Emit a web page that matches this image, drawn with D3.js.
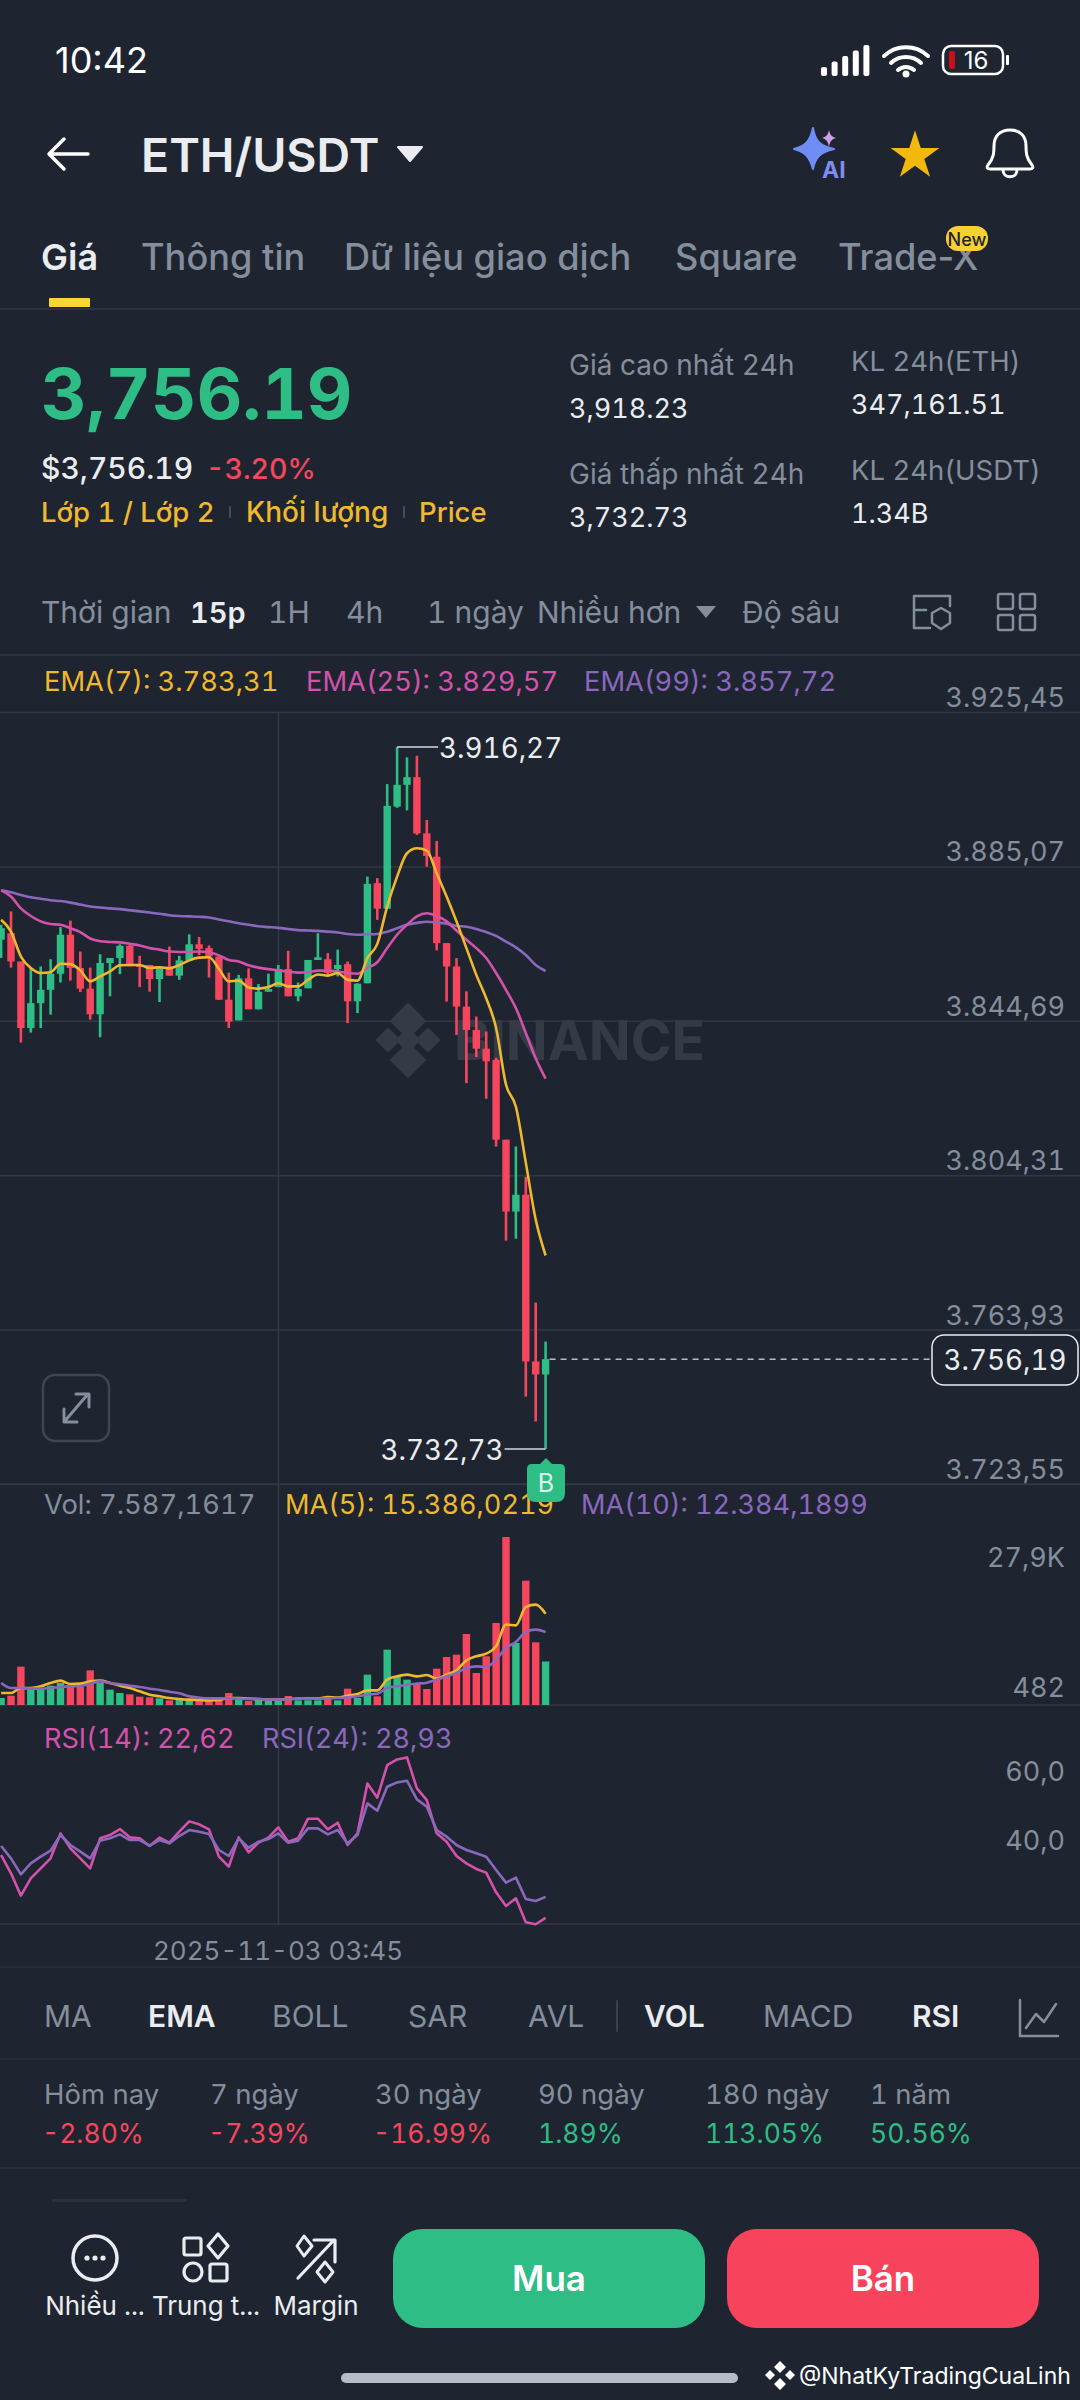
<!DOCTYPE html>
<html>
<head>
<meta charset="utf-8">
<style>
  *{margin:0;padding:0;box-sizing:border-box}
  body{background:#1e2530;width:1080px;height:2400px;overflow:hidden}
  svg{display:block}
  text{font-family:Inter,Roboto,sans-serif;font-variant-numeric:tabular-nums}
</style>
</head>
<body>
<svg id="g" width="1080" height="2400"></svg>
<script src="https://cdn.jsdelivr.net/npm/d3@7/dist/d3.min.js"></script>
<script>
const BG='#1e2530', GRID='#323843', GREEN='#2ebd85', RED='#f6465d', YEL='#eeb92e', PINK='#d452ab', PURP='#8a68bd', GRAY='#848e9c', WHITE='#eaecef';

// candles, 15 minute ETH/USDT
const open=[3865.9,3867.6,3860.2,3842.8,3849.3,3852.8,3857.0,3867.2,3858.5,3853.1,3846.4,3859.8,3861.1,3864.3,3859.3,3859.3,3855.6,3858.9,3856.5,3860.5,3864.7,3863.7,3861.5,3850.2,3844.8,3855.8,3847.7,3852.3,3853.5,3858.2,3851.1,3853.2,3860.6,3860.8,3858.2,3859.5,3849.8,3854.5,3880.7,3874.0,3900.7,3906.4,3908.4,3893.7,3887.6,3865.0,3858.9,3848.4,3842.3,3837.4,3834.5,3813.6,3794.8,3799.2,3755.6,3752.2];
const high=[3869.8,3873.3,3860.2,3858.5,3858.9,3860.8,3869.2,3870.9,3862.8,3858.6,3862.1,3861.1,3864.7,3864.5,3861.7,3859.3,3858.9,3864.1,3861.7,3867.3,3866.6,3864.4,3861.5,3857.3,3856.7,3858.4,3854.3,3857.0,3859.3,3863.0,3854.7,3860.6,3867.6,3862.4,3863.3,3860.2,3854.5,3882.4,3882.0,3906.6,3916.27,3913.6,3914.0,3897.2,3891.7,3865.0,3861.1,3852.4,3845.8,3841.9,3835.0,3813.6,3811.8,3803.9,3771.0,3760.8];
const low=[3861.1,3858.6,3839.0,3841.6,3842.8,3846.3,3854.7,3855.2,3852.2,3845.0,3840.4,3851.1,3856.9,3858.9,3853.5,3852.3,3849.6,3856.5,3855.4,3860.5,3861.9,3856.0,3850.2,3842.8,3844.8,3847.7,3847.7,3852.3,3853.5,3851.1,3849.8,3853.2,3860.6,3856.7,3856.3,3844.1,3846.7,3854.5,3871.1,3874.0,3900.4,3899.7,3893.3,3885.0,3863.1,3849.7,3841.0,3828.4,3835.2,3824.3,3811.8,3787.2,3787.7,3746.4,3739.9,3732.73];
const close=[3868.9,3860.2,3842.8,3849.3,3852.8,3857.0,3867.2,3858.5,3853.1,3846.4,3859.8,3861.1,3864.3,3859.3,3858.9,3855.6,3858.9,3856.5,3860.5,3864.7,3863.5,3861.5,3850.2,3844.5,3855.8,3847.7,3852.3,3853.0,3858.2,3851.1,3853.0,3860.6,3861.3,3857.2,3859.3,3849.8,3854.4,3880.5,3874.0,3900.9,3906.4,3908.4,3893.7,3887.8,3865.0,3858.9,3848.4,3842.3,3837.4,3834.1,3813.6,3794.8,3799.2,3755.6,3752.2,3756.19];

const ema7=[3871.1,3868.0,3861.5,3858.5,3857.2,3857.4,3859.6,3859.5,3857.9,3855.0,3856.3,3857.6,3859.2,3859.3,3859.3,3858.5,3858.7,3858.4,3859.3,3860.5,3861.2,3861.3,3858.3,3855.0,3855.2,3853.4,3853.1,3853.5,3854.5,3853.7,3853.7,3855.4,3856.8,3856.5,3857.2,3855.4,3855.2,3861.1,3864.8,3874.6,3882.4,3888.5,3889.8,3889.2,3883.3,3877.2,3870.7,3863.7,3856.7,3850.6,3842.8,3828.0,3822.2,3807.6,3792.7,3783.31];
const ema25=[3878.8,3877.2,3874.1,3872.1,3870.7,3870.0,3869.8,3868.9,3867.9,3866.2,3865.5,3865.3,3865.2,3864.8,3864.4,3863.7,3863.3,3862.8,3862.7,3862.7,3862.8,3862.6,3861.8,3860.6,3860.2,3859.2,3858.6,3858.2,3857.9,3857.5,3857.3,3857.4,3857.8,3857.8,3857.6,3857.2,3857.0,3858.5,3860.0,3863.7,3867.2,3869.8,3872.0,3872.8,3872.1,3870.7,3868.3,3865.9,3863.7,3861.1,3857.2,3852.8,3848.0,3841.5,3834.9,3829.57];
const ema99=[3878.8,3878.3,3877.6,3877.0,3876.6,3876.2,3876.0,3875.6,3875.1,3874.6,3874.3,3874.1,3873.9,3873.6,3873.3,3873.0,3872.7,3872.3,3872.1,3872.0,3871.9,3871.7,3871.2,3870.7,3870.2,3869.8,3869.4,3869.2,3869.0,3868.7,3868.4,3868.3,3868.2,3868.0,3867.8,3867.4,3867.2,3867.3,3867.4,3868.0,3868.9,3869.8,3870.3,3870.6,3870.4,3870.1,3869.5,3869.3,3868.7,3867.9,3866.9,3865.4,3863.9,3861.9,3859.3,3857.72];

const volume=[1624,2005,6738,3093,3093,3637,4072,3420,3420,6140,4072,2984,2440,2223,1842,1733,1570,1244,1298,1352,1189,1135,1352,2440,1352,1135,1352,1189,1244,1951,1244,1244,1244,1624,1244,3148,1624,5432,1896,9512,5160,4616,3800,3093,6412,8316,8696,12069,5704,8424,13864,27900,10600,20773,10709,7587];
const volMa5=[2440,2440,3256,3256,3528,4072,4453,3909,3964,4344,4453,4072,3637,3256,2712,2168,1896,1624,1461,1352,1298,1244,1298,1624,1624,1516,1461,1352,1352,1461,1516,1570,1570,1788,1679,2005,2277,2876,2876,4616,5160,5432,5160,5378,4780,5432,6140,7772,8424,8860,10056,13592,13484,16476,16856,15386];
const volMa10=[4072,3256,3256,3148,3148,3256,3420,3528,3583,3964,4344,4072,3855,3637,3420,3148,2930,2658,2386,1896,1679,1570,1570,1570,1516,1461,1461,1352,1352,1407,1516,1516,1516,1570,1624,1733,1896,2168,2332,3256,3528,3800,3964,4127,4616,5160,5704,6520,6792,6684,7880,9784,10764,12396,12776,12384];

const rsi14=[41.5,36.0,29.3,34.5,37.5,40.5,48.0,43.5,40.5,37.5,46.5,47.5,49.3,46.8,46.5,44.2,46.7,45.2,48.5,51.6,50.7,49.2,41.0,38.0,46.8,42.3,45.2,46.7,49.8,45.5,46.5,52.4,52.4,49.2,51.2,44.5,48.0,63.0,58.7,68.5,70.2,70.8,61.5,58.0,48.0,45.5,41.2,39.0,37.3,36.2,30.3,26.2,28.5,21.3,20.7,22.62];
const rsi24=[44.2,40.5,35.7,39.0,41.0,42.8,47.5,44.5,42.5,40.5,45.8,46.5,47.7,46.0,46.0,44.3,46.0,45.0,47.2,49.0,48.5,47.8,43.0,41.2,46.5,43.7,45.5,46.3,48.0,45.2,45.8,49.5,49.5,47.7,49.0,45.0,47.5,57.0,54.8,62.0,63.3,63.8,58.2,56.0,49.0,47.0,44.5,43.0,42.0,41.0,37.0,33.2,34.7,28.3,27.7,28.93];

const priceTicks=[3925.45,3885.07,3844.69,3804.31,3763.93,3723.55];
const volTicks=[27900,482];
const rsiTicks=[60,40];
const perfLabels=['Hôm nay','7 ngày','30 ngày','90 ngày','180 ngày','1 năm'];
const perfValues=[-2.80,-7.39,-16.99,1.89,113.05,50.56];

const svg=d3.select('#g');
const viVN=d3.formatLocale({decimal:',',thousands:'.',grouping:[3],currency:['','']});
const fmt2=viVN.format(',.2f');

const x=d3.scaleLinear().domain([0,55]).range([1.1,545.6]);
const yP=d3.scaleLinear().domain([3723.55,3925.45]).range([1484,712]);
const yV=d3.scaleLinear().domain([482,27900]).range([1705,1537]);
const yR=d3.scaleLinear().domain([40,60]).range([1860,1793.4]);
const idx=d3.range(open.length);

function txt(s,px,py,size,fill,o={}){
  const t=svg.append('text').attr('x',px).attr('y',py).attr('dominant-baseline','central')
    .attr('font-size',size).attr('fill',fill).attr('font-weight',o.w||400)
    .attr('text-anchor',o.a||'start').text(s);
  if(o.prop) t.style('font-variant-numeric','normal');
  return t;
}
function hline(y,x1=0,x2=1080,c=GRID){svg.append('line').attr('x1',x1).attr('x2',x2).attr('y1',y).attr('y2',y).attr('stroke',c).attr('stroke-width',1.5);}
function icon(d,o={}){
  return svg.append('path').attr('d',d).attr('fill',o.fill||'none').attr('stroke',o.stroke||'none').attr('stroke-width',o.sw||3).attr('stroke-linejoin','round').attr('stroke-linecap','round');
}
function box(x0,y0,w,h,r,o={}){
  return svg.append('rect').attr('x',x0).attr('y',y0).attr('width',w).attr('height',h).attr('rx',r)
    .attr('fill',o.fill||'none').attr('stroke',o.stroke||'none').attr('stroke-width',o.sw||3);
}

// status bar
txt('10:42',55,60,36,'#fff',{prop:1});
[0,1,2,3,4].forEach(i=>box(821+i*10.6,67-i*5.5,6,9+i*5.5,2,{fill:'#fff'}));
icon('M884 56 A32 32 0 0 1 928 56 M891 63 A22 22 0 0 1 921 63 M898 70 A12 12 0 0 1 914 70',{stroke:'#fff',sw:4});
svg.append('circle').attr('cx',906).attr('cy',74).attr('r',3.5).attr('fill','#fff');
box(943,46,60,28,8,{stroke:'#fff',sw:2.5});
box(949,51,6,18,2,{fill:'#c8101c'});
box(1006,55,3,10,1,{fill:'#fff'});
txt('16',976,60,24,'#fff',{a:'middle',prop:1});

// header
icon('M88 154 H50 M64 139 L49 154 L64 169',{stroke:'#fff',sw:3.5});
txt('ETH/USDT',141,155,46.5,WHITE,{w:600});
icon('M398 147 H422 L410 161 Z',{fill:WHITE,stroke:WHITE,sw:2});
icon('M813 128 C815 141 820 146 834 149 C820 152 815 158 813 169 C810 158 806 152 794 149 C806 146 810 141 813 128 Z',{fill:'#6f8df5',stroke:'#6f8df5',sw:2});
icon('M829 130 C830 135 832 137 836 138 C832 139 830 141 829 147 C828 141 826 139 822 138 C826 137 828 135 829 130 Z',{fill:'#c9a0e8'});
txt('AI',822,170,23,'#7f8cf2',{w:700});
svg.append('path').attr('transform','translate(915,156)').attr('fill','#f0b90b')
  .attr('d',d3.symbol().type(d3.symbolStar).size(740)());
icon('M988 165 C994 158 994 152 994 146 C994 136 1000 130 1010 130 C1020 130 1026 136 1026 146 C1026 152 1026 158 1032 165 C1034 168 1032 169 1030 169 H990 C988 169 986 168 988 165 Z M1003 170 C1003 179 1017 179 1017 170',{stroke:'#fff',sw:3});

// top tabs
txt('Giá',41,257,36,WHITE,{w:600});
[['Thông tin',141],['Dữ liệu giao dịch',344],['Square',675],['Trade-X',838]].forEach(d=>txt(d[0],d[1],257,36.2,GRAY,{w:500,prop:1}));
box(49,298,41,9,1,{fill:'#fcd535'});
hline(309);
box(946,226,42,25,12,{fill:'#f8d12f'});
txt('New',967,239,18,'#1e2530',{a:'middle',w:500});

// price block
txt('3,756.19',41,393,70.5,GREEN,{w:700});
txt('$3,756.19',41,468,30,WHITE,{w:500});
txt('-3.20%',206,468,28.5,RED,{w:500});
txt('Lớp 1 / Lớp 2',41,512,27.5,YEL,{w:500});
txt('Khối lượng',246,512,28,YEL,{w:500});
txt('Price',419,512,27.5,YEL,{w:500});
[229,403].forEach(v=>box(v,506,2,12,1,{fill:'#474d57'}));
txt('Giá cao nhất 24h',569,365,28,GRAY);
txt('3,918.23',569,408,27,WHITE);
txt('Giá thấp nhất 24h',569,474,28,GRAY);
txt('3,732.73',569,517,27,WHITE);
txt('KL 24h(ETH)',851,361,27.5,GRAY);
txt('347,161.51',851,404,27,WHITE);
txt('KL 24h(USDT)',851,470,27.5,GRAY);
txt('1.34B',851,513,27,WHITE);

// interval row
txt('Thời gian',41,612,30,GRAY);
txt('15p',190,612,29,WHITE,{w:600});
[['1H',268],['4h',346],['1 ngày',427],['Nhiều hơn',537],['Độ sâu',742]].forEach(d=>txt(d[0],d[1],612,30,GRAY));
icon('M696 606 H716 L706 618 Z',{fill:GRAY});
icon('M914 596 H950 M914 596 V628 H930 M950 596 V606 M914 610 H926',{stroke:GRAY,sw:2.5});
icon('M941 608 L950 613 V623 L941 629 L932 623 V613 Z',{stroke:GRAY,sw:2.5});
[[998,594],[1020,594],[998,615],[1020,615]].forEach(d=>box(d[0],d[1],15,15,2,{stroke:GRAY,sw:2.5}));
hline(655);

// price grid and axis
const axisP=d3.axisRight(yP).tickValues(priceTicks).tickSize(1080).tickFormat(fmt2);
const gAxis=svg.append('g').call(axisP);
gAxis.select('.domain').remove();
gAxis.selectAll('line').attr('stroke',GRID).attr('stroke-width',1.5);
gAxis.selectAll('text').attr('x',1065).attr('dominant-baseline','central').attr('text-anchor','end')
  .attr('font-size',27).attr('fill',GRAY).attr('dy',null).attr('y',-15).style('font-family','Inter,Roboto,sans-serif');

// crosshair line
svg.append('line').attr('x1',278.5).attr('x2',278.5).attr('y1',712).attr('y2',1925).attr('stroke',GRID).attr('stroke-width',1.5);

// watermark
const gMark=svg.append('g').attr('fill','#343b47');
[[408,1021,13],[408,1060,13],[388,1040,9],[408,1040,9],[428,1040,9]].forEach(d=>{
  gMark.append('rect').attr('x',d[0]-d[2]).attr('y',d[1]-d[2]).attr('width',d[2]*2).attr('height',d[2]*2)
    .attr('transform',`rotate(45 ${d[0]} ${d[1]})`);
});
txt('BINANCE',454,1040,55,'#343b47',{w:700});

// legends
txt('EMA(7): '+fmt2(ema7[55]),44,681,27.3,YEL);
txt('EMA(25): '+fmt2(ema25[55]),306,681,27.3,PINK);
txt('EMA(99): '+fmt2(ema99[55]),584,681,27.3,PURP);

// candles
const gC=svg.append('g');
gC.selectAll('line').data(idx).join('line')
  .attr('x1',i=>x(i)).attr('x2',i=>x(i)).attr('y1',i=>yP(high[i])).attr('y2',i=>yP(low[i]))
  .attr('stroke',i=>close[i]>=open[i]?GREEN:RED).attr('stroke-width',2.6);
gC.selectAll('rect').data(idx).join('rect')
  .attr('x',i=>x(i)-3.7).attr('width',7.4)
  .attr('y',i=>yP(Math.max(open[i],close[i])))
  .attr('height',i=>Math.max(2,Math.abs(yP(open[i])-yP(close[i]))))
  .attr('fill',i=>close[i]>=open[i]?GREEN:RED);

const lineOf=(arr,y,curve)=>d3.line().x((d,i)=>x(i)).y(d=>y(d)).curve(curve)(arr);
function series(arr,y,c,curve=d3.curveMonotoneX,w=2.6){
  svg.append('path').attr('d',lineOf(arr,y,curve)).attr('fill','none').attr('stroke',c).attr('stroke-width',w).attr('stroke-linejoin','round');
}
series(ema99,yP,PURP);
series(ema25,yP,PINK);
series(ema7,yP,YEL);

// high / low markers
const iHi=high.indexOf(d3.max(high)), iLo=low.indexOf(d3.min(low));
svg.append('line').attr('x1',x(iHi)).attr('x2',x(iHi)+41).attr('y1',yP(high[iHi])).attr('y2',yP(high[iHi])).attr('stroke','#d5d8dc').attr('stroke-width',1.5);
txt(fmt2(high[iHi]),x(iHi)+42,yP(high[iHi])+1,27.8,WHITE);
svg.append('line').attr('x1',x(iLo)-41).attr('x2',x(iLo)).attr('y1',yP(low[iLo])).attr('y2',yP(low[iLo])).attr('stroke','#d5d8dc').attr('stroke-width',1.5);
txt(fmt2(low[iLo]),x(iLo)-42,yP(low[iLo])+1,27.8,WHITE,{a:'end'});

// current price
const last=close[55];
svg.append('line').attr('x1',x(55)+4).attr('x2',932).attr('y1',yP(last)).attr('y2',yP(last)).attr('stroke','#b7bdc6').attr('stroke-width',1.5).attr('stroke-dasharray','6 5');
box(932,1335,146,50,12,{fill:BG,stroke:'#eaecef',sw:1.5});
txt(fmt2(last),1005,1360,27.8,WHITE,{a:'middle'});

// expand button
box(43,1375,66,66,12,{stroke:'#3f4652',sw:2.5});
icon('M88 1394 L64 1422 M76 1394 H89 V1407 M64 1409 V1422 H77',{stroke:'#848e9c',sw:3});

// panel separators
hline(1484);
hline(1705);
hline(1924);
hline(1967,0,1080,'#2b3139');
hline(2059,0,1080,'#2b3139');
hline(2168,0,1080,'#2b3139');

// volume panel
const fmt4=viVN.format(',.4f');
txt('Vol: '+fmt4(7587.1617),44,1504,27.3,GRAY);
txt('MA(5): '+fmt4(15386.0219),285,1504,27.1,YEL);
txt('MA(10): '+fmt4(12384.1899),581,1504,27.1,PURP);
svg.append('g').selectAll('rect').data(idx).join('rect')
  .attr('x',i=>x(i)-3.7).attr('width',7.4)
  .attr('y',i=>yV(volume[i])).attr('height',i=>yV.range()[0]-yV(volume[i]))
  .attr('fill',i=>close[i]>=open[i]?GREEN:RED);
series(volMa5,yV,YEL);
series(volMa10,yV,PURP);
const volFmt=v=>v>=1000?viVN.format('.1f')(v/1000)+'K':String(v);
txt(volFmt(volTicks[0]),1065,1557,27,GRAY,{a:'end'});
txt(volFmt(volTicks[1]),1065,1687,27,GRAY,{a:'end'});

// buy badge, sits on top of the volume legend
icon('M546 1458 L552 1464 H560 Q565 1464 565 1469 V1493 Q565 1502 556 1502 H536 Q527 1502 527 1493 V1469 Q527 1464 532 1464 H540 Z',{fill:GREEN});
txt('B',546,1483,25,'#dff5ec',{a:'middle'});

// rsi panel
txt('RSI(14): '+fmt2(rsi14[55]),44,1738,27.1,PINK);
txt('RSI(24): '+fmt2(rsi24[55]),262,1738,27.1,PURP);
series(rsi14,yR,PINK,d3.curveLinear);
series(rsi24,yR,PURP,d3.curveLinear);
const rsiFmt=viVN.format('.1f');
rsiTicks.forEach((t,i)=>txt(rsiFmt(t),1065,yR(t)-(i?20:22),27,GRAY,{a:'end'}));
txt('2025-11-03 03:45',278,1950,26,GRAY,{a:'middle'});

// indicator tabs
[['MA',44,0],['EMA',148,1],['BOLL',272,0],['SAR',408,0],['AVL',528,0],['VOL',644,1],['MACD',763,0],['RSI',912,1]].forEach(d=>{
  txt(d[0],d[1],2016,30,d[2]?WHITE:GRAY,{w:d[2]?600:400});
});
box(616,2000,2,32,1,{fill:'#3a414d'});
icon('M1020 2000 V2036 H1058 M1026 2028 L1036 2014 L1044 2022 L1056 2004',{stroke:GRAY,sw:2.5});

// performance row
const perfX=[44,210,375,538,705,870];
perfLabels.forEach((l,i)=>{
  txt(l,perfX[i],2094,27.5,GRAY);
  const v=perfValues[i];
  txt(v.toFixed(2)+'%',perfX[i]-(v<0?2:0),2133,26.5,v<0?RED:GREEN);
});
box(52,2199,135,3,1,{fill:'#2b3139'});

// bottom bar
svg.append('circle').attr('cx',95).attr('cy',2258).attr('r',22).attr('fill','none').attr('stroke',WHITE).attr('stroke-width',3.5);
[-8,0,8].forEach(d=>svg.append('circle').attr('cx',95+d).attr('cy',2258).attr('r',2.6).attr('fill',WHITE));
box(184,2238,17,17,2,{stroke:WHITE,sw:3.2});
icon('M218 2234 L228 2246 L218 2258 L208 2246 Z',{stroke:WHITE,sw:3.2});
svg.append('circle').attr('cx',193).attr('cy',2272).attr('r',9).attr('fill','none').attr('stroke',WHITE).attr('stroke-width',3.2);
box(210,2264,17,17,2,{stroke:WHITE,sw:3.2});
icon('M298 2278 L334 2240 M314 2240 H335 V2262',{stroke:WHITE,sw:3.2});
icon('M304 2236 L312 2246 L304 2256 L297 2246 Z M325 2262 L333 2272 L325 2282 L317 2272 Z',{stroke:WHITE,sw:3});
txt('Nhiều ...',95,2305,26,WHITE,{a:'middle'});
txt('Trung t...',206,2305,26,WHITE,{a:'middle'});
txt('Margin',316,2305,26,WHITE,{a:'middle'});
box(393,2229,312,99,30,{fill:GREEN});
box(727,2229,312,99,30,{fill:'#f7445c'});
txt('Mua',549,2278,35,'#fff',{a:'middle',w:600});
txt('Bán',883,2278,35,'#fff',{a:'middle',w:600});
box(341,2373,397,10,5,{fill:'#b7bdc6'});
icon('M780 2361 L786 2367 L780 2373 L774 2367 Z M780 2378 L786 2384 L780 2390 L774 2384 Z M770 2370 L775 2375 L770 2380 L765 2375 Z M790 2370 L795 2375 L790 2380 L785 2375 Z',{fill:'#fff'});
txt('@NhatKyTradingCuaLinh',799,2376,23,'#fff');
</script>
</body>
</html>
